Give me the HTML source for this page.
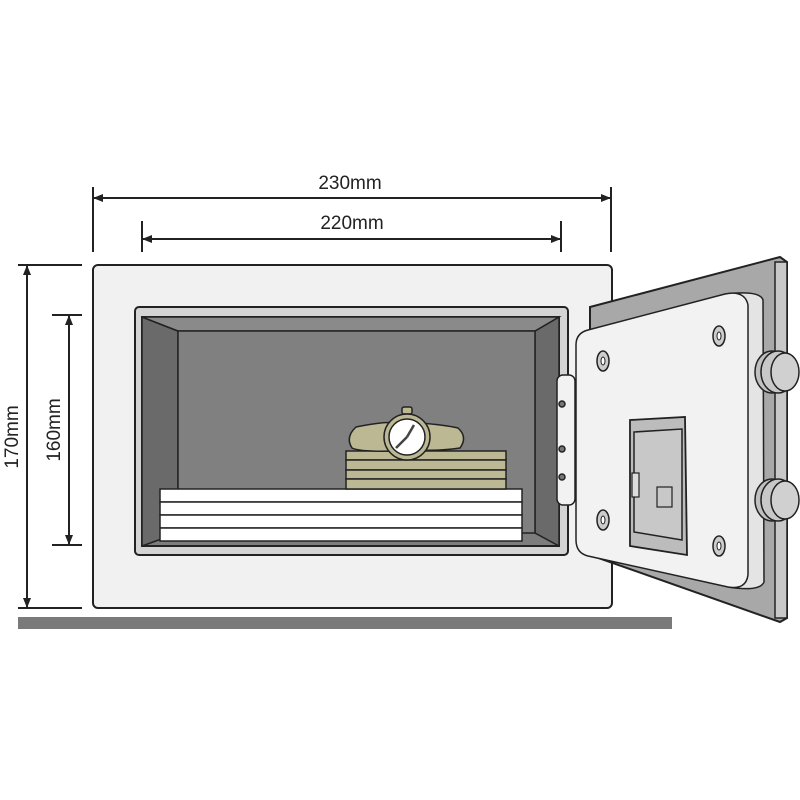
<!DOCTYPE html>
<html><head><style>html,body{margin:0;padding:0;background:#fff}svg{display:block}</style></head>
<body>
<svg width="800" height="800" viewBox="0 0 800 800" xmlns="http://www.w3.org/2000/svg">
<defs>
<marker id="a" viewBox="0 0 10 10" refX="9" refY="5" markerWidth="5" markerHeight="5" orient="auto-start-reverse"><path d="M10,5 L0,1 L0,9 Z" fill="#222"/></marker>
</defs>
<rect x="0" y="0" width="800" height="800" fill="#fff"/>
<rect x="18" y="617" width="654" height="12" fill="#7a7a7a"/>
<g stroke="#222" stroke-width="2" fill="none">
<line x1="93" y1="187" x2="93" y2="252"/>
<line x1="611" y1="187" x2="611" y2="252"/>
<line x1="94" y1="198" x2="610" y2="198" marker-start="url(#a)" marker-end="url(#a)"/>
<line x1="142" y1="221" x2="142" y2="252"/>
<line x1="561" y1="221" x2="561" y2="252"/>
<line x1="143" y1="239" x2="560" y2="239" marker-start="url(#a)" marker-end="url(#a)"/>
<line x1="18" y1="265" x2="82" y2="265"/>
<line x1="18" y1="608" x2="82" y2="608"/>
<line x1="27" y1="266" x2="27" y2="607" marker-start="url(#a)" marker-end="url(#a)"/>
<line x1="52" y1="315" x2="82" y2="315"/>
<line x1="52" y1="545" x2="82" y2="545"/>
<line x1="69" y1="316" x2="69" y2="544" marker-start="url(#a)" marker-end="url(#a)"/>
</g>
<g font-family="Liberation Sans, sans-serif" font-size="19" fill="#222" text-anchor="middle">
<text x="350" y="189">230mm</text>
<text x="352" y="229">220mm</text>
<text transform="translate(18,437) rotate(-90)">170mm</text>
<text transform="translate(60,430) rotate(-90)">160mm</text>
</g>
<rect x="93" y="265" width="519" height="343" rx="5" fill="#f1f1f1" stroke="#222" stroke-width="2"/>
<rect x="135" y="307" width="433" height="248" rx="4" fill="#d4d4d4" stroke="#222" stroke-width="2"/>
<rect x="142" y="317" width="417" height="229" fill="#7d7d7d" stroke="#222" stroke-width="2"/>
<polygon points="142,317 178,331 178,533 142,546" fill="#6a6a6a" stroke="#222" stroke-width="1.5"/>
<polygon points="559,317 535,331 535,533 559,546" fill="#6a6a6a" stroke="#222" stroke-width="1.5"/>
<polygon points="142,317 559,317 535,331 178,331" fill="#8a8a8a" stroke="#222" stroke-width="1.5"/>
<rect x="178" y="331" width="357" height="202" fill="#808080" stroke="#222" stroke-width="1.5"/>
<g fill="#fff" stroke="#222" stroke-width="1.5">
<rect x="160" y="489" width="362" height="13"/>
<rect x="160" y="502" width="362" height="13"/>
<rect x="160" y="515" width="362" height="13"/>
<rect x="160" y="528" width="362" height="13"/>
</g>
<g fill="#bcb894" stroke="#222" stroke-width="1.5">
<rect x="346" y="451" width="160" height="9"/>
<rect x="346" y="460" width="160" height="10"/>
<rect x="346" y="470" width="160" height="9"/>
<rect x="346" y="479" width="160" height="10"/>
</g>
<path d="M356,427 Q385,421 395,423 L395,451 Q360,452 352,448 Q345,437 356,427 Z" fill="#bcb894" stroke="#222" stroke-width="1.5"/>
<path d="M420,423 Q445,425 458,428 Q468,437 460,448 Q440,451 420,450 Z" fill="#bcb894" stroke="#222" stroke-width="1.5"/>
<rect x="402" y="407" width="10" height="7" rx="2" fill="#bcb894" stroke="#222" stroke-width="1.5"/>
<circle cx="407" cy="437" r="23" fill="#bcb894" stroke="#222" stroke-width="1.5"/>
<circle cx="407" cy="437" r="18" fill="#fff" stroke="#222" stroke-width="1.5"/>
<path d="M407,437 L414,425 M407,437 L396,448" stroke="#444" stroke-width="2.5"/>
<polygon points="590,307 780,257 787,262 787,618 780,622 590,555" fill="#a8a8a8" stroke="#222" stroke-width="2"/>
<polygon points="775,262 787,262 787,618 775,618" fill="#c8c8c8" stroke="#222" stroke-width="1.5"/>
<path d="M725,294 Q760,290 763,300 L764,582 Q760,592 728,587" fill="#e4e4e4" stroke="#222" stroke-width="1.5"/>
<path d="M588,330 L725,294 Q745,290 748,305 L748,575 Q746,590 728,587 L588,556 Q576,553 576,540 L576,345 Q576,333 588,330 Z" fill="#f2f2f2" stroke="#222" stroke-width="1.5"/>
<rect x="557" y="375" width="18" height="130" rx="6" fill="#f2f2f2" stroke="#222" stroke-width="1.5"/>
<g fill="#777" stroke="#222" stroke-width="1.5">
<circle cx="562" cy="404" r="3"/><circle cx="562" cy="449" r="3"/><circle cx="562" cy="477" r="3"/>
</g>
<g fill="#ccc" stroke="#222" stroke-width="1.5">
<ellipse cx="603" cy="361" rx="6" ry="10"/><ellipse cx="719" cy="336" rx="6" ry="10"/>
<ellipse cx="603" cy="520" rx="6" ry="10"/><ellipse cx="719" cy="546" rx="6" ry="10"/>
</g>
<g fill="#fff" stroke="#222" stroke-width="1">
<ellipse cx="603" cy="361" rx="2" ry="4"/><ellipse cx="719" cy="336" rx="2" ry="4"/>
<ellipse cx="603" cy="520" rx="2" ry="4"/><ellipse cx="719" cy="546" rx="2" ry="4"/>
</g>
<polygon points="630,420 685,417 687,555 630,546" fill="#bcbcbc" stroke="#222" stroke-width="1.8"/>
<polygon points="634,432 682,429 682,540 634,532" fill="#c8c8c8" stroke="#222" stroke-width="1.5"/>
<rect x="632" y="473" width="7" height="24" fill="#ddd" stroke="#222" stroke-width="1.2"/>
<rect x="657" y="487" width="15" height="20" fill="#c8c8c8" stroke="#222" stroke-width="1.2"/>
<g stroke="#222" stroke-width="1.5">
<ellipse cx="772" cy="372" rx="17" ry="21" fill="#c0c0c0"/>
<ellipse cx="778" cy="372" rx="17" ry="21" fill="#c8c8c8"/>
<ellipse cx="785" cy="372" rx="14" ry="19" fill="#d0d0d0"/>
<ellipse cx="772" cy="500" rx="17" ry="21" fill="#c0c0c0"/>
<ellipse cx="778" cy="500" rx="17" ry="21" fill="#c8c8c8"/>
<ellipse cx="785" cy="500" rx="14" ry="19" fill="#d0d0d0"/>
</g>
</svg>
</body></html>
